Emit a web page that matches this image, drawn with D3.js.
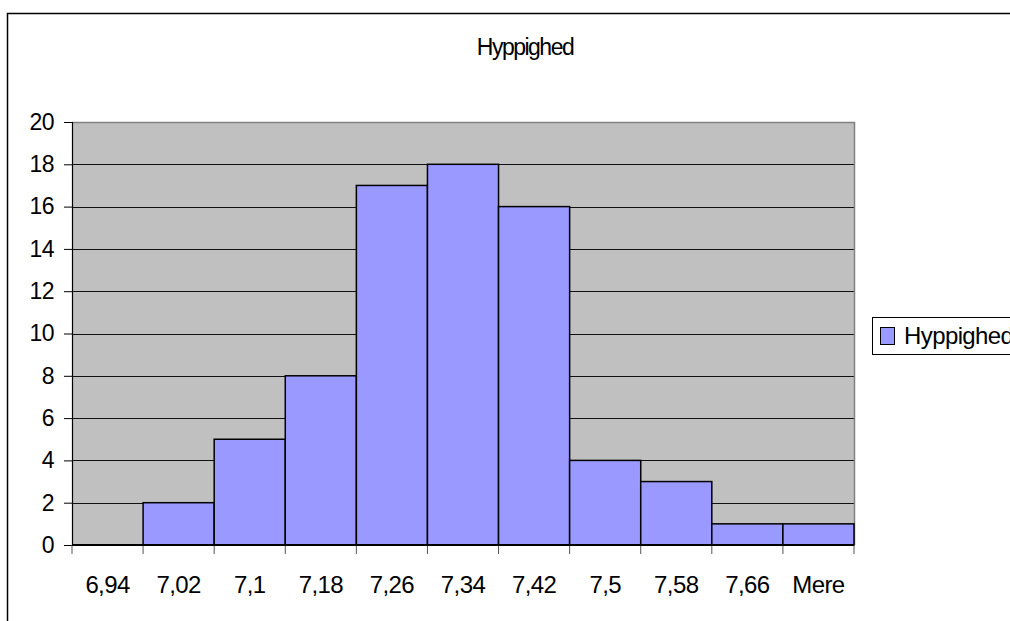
<!DOCTYPE html>
<html>
<head>
<meta charset="utf-8">
<script src="https://cdn.jsdelivr.net/npm/d3@7"></script>
<style>
  html, body { margin: 0; padding: 0; background: #fff; }
  svg { display: block; font-family: "Liberation Sans", Arial, sans-serif; }
</style>
</head>
<body>
<svg id="chart" width="1010" height="621"></svg>
<script>
// Histogram of measurements (bin upper limits)
const categories = ["6,94", "7,02", "7,1", "7,18", "7,26", "7,34", "7,42", "7,5", "7,58", "7,66", "Mere"];
const counts = [0, 2, 5, 8, 17, 18, 16, 4, 3, 1, 1];
const yTicks = [0, 2, 4, 6, 8, 10, 12, 14, 16, 18, 20];
const seriesName = "Hyppighed";
const title = "Hyppighed";

const svg = d3.select("#chart");
const plot = { left: 72, top: 122, right: 854, bottom: 545 };

// chart frame
svg.append("rect")
  .attr("x", 7.5).attr("y", 13.5)
  .attr("width", 1010).attr("height", 620)
  .attr("fill", "#fff").attr("stroke", "#000").attr("stroke-width", 1.5);

svg.append("text")
  .attr("x", 525).attr("y", 55)
  .attr("text-anchor", "middle")
  .attr("font-size", 23)
  .attr("letter-spacing", -1.5)
  .text(title);

const x = d3.scaleBand().domain(categories).range([plot.left, plot.right]).padding(0);
const y = d3.scaleLinear().domain([0, 20]).range([plot.bottom, plot.top]);

// plot area background
svg.append("rect")
  .attr("x", plot.left).attr("y", plot.top)
  .attr("width", plot.right - plot.left).attr("height", plot.bottom - plot.top)
  .attr("fill", "#c0c0c0");

// gridlines
svg.append("g").selectAll("line")
  .data(yTicks.filter(d => d > 0 && d < 20))
  .join("line")
  .attr("x1", plot.left).attr("x2", plot.right)
  .attr("y1", d => Math.round(y(d)) + 0.5).attr("y2", d => Math.round(y(d)) + 0.5)
  .attr("stroke", "#111").attr("stroke-width", 1);

// plot border top/right
svg.append("path")
  .attr("d", `M${plot.left},${plot.top + 0.5}H${plot.right + 0.5}V${plot.bottom}`)
  .attr("fill", "none").attr("stroke", "#808080").attr("stroke-width", 1.5);

// bars
svg.append("g").selectAll("rect")
  .data(categories.map((c, i) => ({ c, v: counts[i] })).filter(d => d.v > 0))
  .join("rect")
  .attr("x", d => x(d.c))
  .attr("y", d => y(d.v))
  .attr("width", x.bandwidth())
  .attr("height", d => y(0) - y(d.v))
  .attr("fill", "#9999ff")
  .attr("stroke", "#000")
  .attr("stroke-width", 1.5);

// y axis
const yAxis = d3.axisLeft(y).tickValues(yTicks).tickSize(8).tickPadding(10);
const gy = svg.append("g").attr("transform", `translate(${plot.left},0)`).call(yAxis);
gy.select(".domain").attr("stroke", "#000").attr("stroke-width", 1.2);
gy.selectAll(".tick line").attr("stroke", "#000");
gy.selectAll(".tick text").attr("font-size", 23).attr("fill", "#000")
  .attr("font-family", "Liberation Sans, Arial, sans-serif").attr("letter-spacing", -0.5);

// x axis with ticks on bin boundaries
const bounds = categories.map(c => x(c)).concat([plot.right]);
const gx = svg.append("g");
gx.selectAll("line.tk").data(bounds).join("line")
  .attr("class", "tk")
  .attr("x1", d => d).attr("x2", d => d)
  .attr("y1", plot.bottom).attr("y2", plot.bottom + 9)
  .attr("stroke", "#555").attr("stroke-width", 1);
gx.append("line")
  .attr("x1", plot.left).attr("x2", plot.right)
  .attr("y1", plot.bottom).attr("y2", plot.bottom)
  .attr("stroke", "#000").attr("stroke-width", 2.2);
gx.selectAll("text").data(categories).join("text")
  .attr("x", d => x(d) + x.bandwidth() / 2)
  .attr("y", 593)
  .attr("text-anchor", "middle")
  .attr("font-size", 24)
  .attr("letter-spacing", -0.6)
  .text(d => d);

// legend
const lg = svg.append("g");
lg.append("rect")
  .attr("x", 872.5).attr("y", 317.5).attr("width", 160).attr("height", 37)
  .attr("fill", "#fff").attr("stroke", "#000").attr("stroke-width", 1);
lg.append("rect")
  .attr("x", 880.5).attr("y", 327.5).attr("width", 14).attr("height", 17)
  .attr("fill", "#9999ff").attr("stroke", "#000").attr("stroke-width", 1);
lg.append("text")
  .attr("x", 904).attr("y", 344)
  .attr("font-size", 24)
  .attr("letter-spacing", -0.6)
  .text(seriesName);
</script>
</body>
</html>
